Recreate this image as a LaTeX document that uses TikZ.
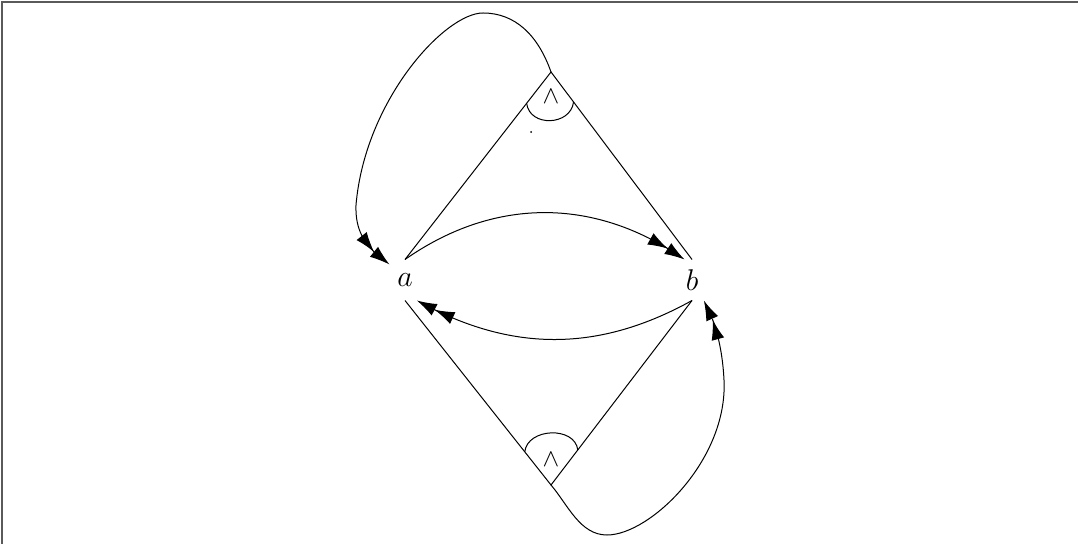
\documentclass[tikz,border=0pt]{standalone}
\usepackage{amssymb,amsmath}
\usetikzlibrary{calc,arrows.meta,bending}
\definecolor{frameGray}{RGB}{90,90,90}
\tikzset{
  vertex/.style={inner sep=0pt,minimum width=12pt,minimum height=16pt,font=\large},
  twohead/.style={-{Latex[length=8pt,width=5.2pt,flex]Latex[length=8pt,width=5.2pt,flex]}},
}

\begin{document}
\begin{tikzpicture}[x=0.4pt,y=-0.4pt,line width=0.4pt]
\useasboundingbox (0,0) rectangle (1078,544);
\draw[frameGray,line width=0.8pt] (2,544) -- (2,2) -- (1078,2);
\node[vertex] (a) at (405,280) {$a$};
\node[vertex] (b) at (692,280) {$b$};
\node (gu) at (551,97) {$\wedge$};
\node (gl) at (551,460) {$\wedge$};
\coordinate (ua) at (551,72);
\coordinate (la) at (551,485);
% upper gate
\draw (a.north) -- (ua) -- (b.north);
\draw ($(ua)!0.167!(a.north)$) .. controls +(3,24) and +(-3,24) .. ($(ua)!0.16!(b.north)$);
\fill (531,132) circle (0.4pt);
% lower gate
\draw (a.south) -- (la) -- (b.south);
\draw ($(la)!0.18!(a.south)$) .. controls +(3,-24) and +(-3,-24) .. ($(la)!0.19!(b.south)$);
% arrows between a and b
\draw[twohead] (a.north) to[bend left=35] (b.110);
\draw[twohead] (b.south) to[bend left=29] (a.-60);
% feedback loops
\draw[twohead] (ua) .. controls (538,35) and (515,13) .. (483,13)
  .. controls (445,13) and (365,100) .. (356,205)
  .. controls (355,232) and (366,248) .. (a.135);
\draw[twohead] (la) .. controls (568,505) and (580,535) .. (607,535)
  .. controls (650,535) and (728,460) .. (724,380)
  .. controls (722,340) and (712,315) .. (b.-60);
\end{tikzpicture}
\end{document}
